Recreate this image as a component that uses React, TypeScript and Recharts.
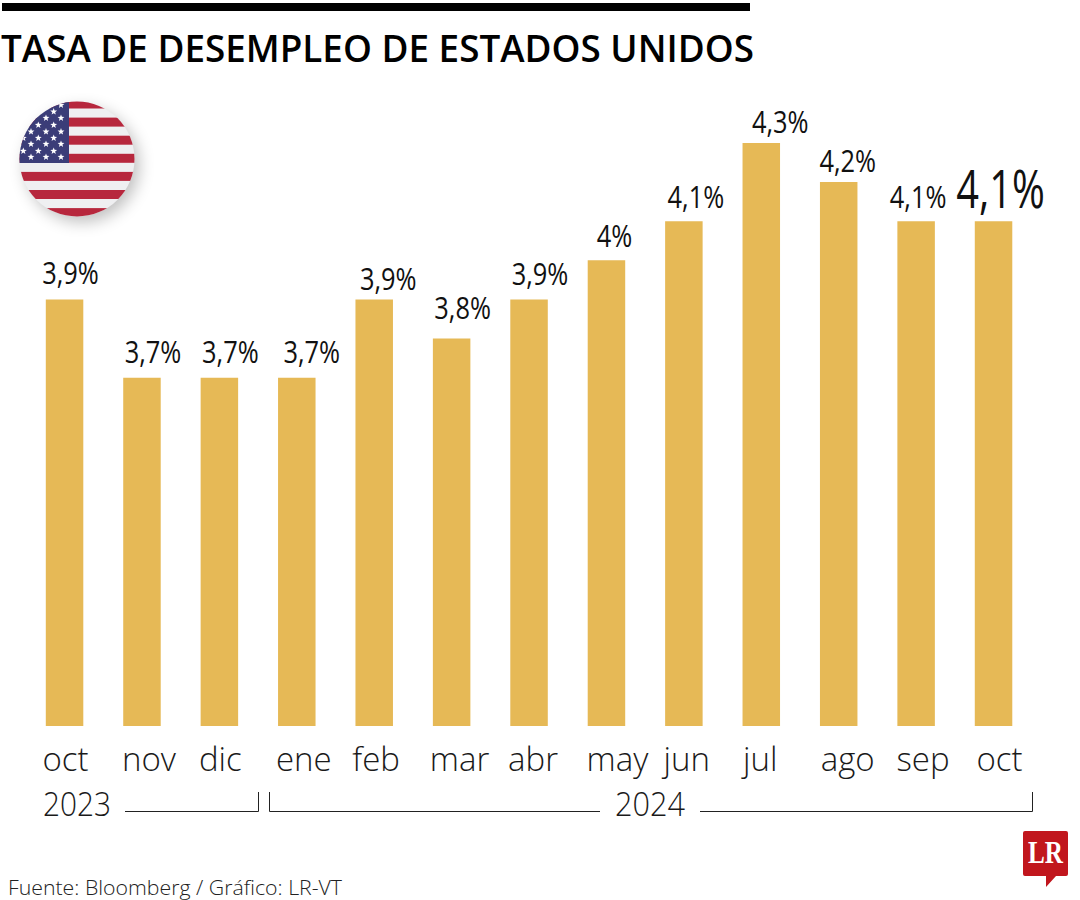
import { BarChart, Bar, XAxis, YAxis, LabelList } from 'recharts'

const months = ['oct', 'nov', 'dic', 'ene', 'feb', 'mar', 'abr', 'may', 'jun', 'jul', 'ago', 'sep', 'oct']
const rates = [3.9, 3.7, 3.7, 3.7, 3.9, 3.8, 3.9, 4, 4.1, 4.3, 4.2, 4.1, 4.1]
const rateLabels = ['3,9%', '3,7%', '3,7%', '3,7%', '3,9%', '3,8%', '3,9%', '4%', '4,1%', '4,3%', '4,2%', '4,1%', '4,1%']

const chartData = months.map((month, i) => ({ month, rate: rates[i], label: rateLabels[i] }))

// hand placed nudges, the labels in the original are not centered on the bars
const tickNudge = [1, 7, 1, 7, 2, 8, 4, 11, 3, -1, 9, 7, 6]
const labelNudgeX = [6, 11, 11, 15, 14, 11, 11, 8, 12, 19, 9, 2, 7]
const labelNudgeY = [0, 0, 0, 0, 6, -5, 1, 2, 2, 5, 5, 2, 2]

const LIGHT = '"Open Sans", sans-serif'
const BAR = '#e6b956'

function MonthTick({ x, y, index, payload }: any) {
  return (
    <text x={x + tickNudge[index]} y={y + 39} textAnchor="middle" fontFamily={LIGHT} fontWeight={300} fontSize={33} fill="#1a1a1a">
      {payload.value}
    </text>
  )
}

function RateLabel({ x, y, width, value, index }: any) {
  const last = index === rates.length - 1
  const cx = x + width / 2 + labelNudgeX[index]
  const by = y - 15 + labelNudgeY[index]
  return (
    <text
      transform={`translate(${cx} ${by}) scale(${last ? 0.75 : 0.82} 1)`}
      textAnchor="middle"
      fontFamily={LIGHT}
      fontSize={last ? 53 : 31}
      fill="#111"
    >
      {value}
    </text>
  )
}

function Flag() {
  const stripes = [0, 1, 2, 3, 4, 5, 6]
  const starRows = [105, 111.7, 118, 125, 131.7, 138, 144, 151, 157]
  const starCols = [61, 53.7, 46, 38.3, 31, 23.3]
  const star = (cx: number, cy: number) => {
    const pts: string[] = []
    for (let k = 0; k < 10; k++) {
      const r = k % 2 ? 1.5 : 3.6
      const a = -Math.PI / 2 + (k * Math.PI) / 5
      pts.push(`${cx + r * Math.cos(a)},${cy + r * Math.sin(a)}`)
    }
    return pts.join(' ')
  }
  return (
    <g>
      <defs>
        <clipPath id="flagClip">
          <circle cx={77} cy={159} r={57.5} />
        </clipPath>
        <filter id="flagShadow" x="-40%" y="-40%" width="180%" height="180%">
          <feGaussianBlur stdDeviation="8" />
        </filter>
      </defs>
      <circle cx={82} cy={165} r={57} fill="#000" opacity={0.25} filter="url(#flagShadow)" />
      <g clipPath="url(#flagClip)">
        <rect x={19} y={101} width={116} height={117} fill="#efeff1" />
        {stripes.map(i => (
          <rect key={i} x={19} y={99.5 + i * 18.1} width={116} height={9} fill="#b7273d" />
        ))}
        <rect x={19} y={101} width={50} height={62} fill="#3b3d78" />
        {starRows.map((cy, r) =>
          starCols.filter((_, c) => c % 2 === (r % 2 === 0 ? 0 : 1)).map(cx => (
            <polygon key={`${cx}-${cy}`} points={star(cx, cy)} fill="#fff" />
          ))
        )}
      </g>
    </g>
  )
}

function Overlay() {
  return (
    <svg width={1080} height={900} style={{ position: 'absolute', left: 0, top: 0, pointerEvents: 'none' }}>
      <rect x={2} y={3} width={748} height={8} fill="#000" />
      <text x={1} y={62} fontFamily={LIGHT} fontWeight={600} fontSize={38} textLength={753} lengthAdjust="spacingAndGlyphs" fill="#000">
        TASA DE DESEMPLEO DE ESTADOS UNIDOS
      </text>
      <Flag />

      <text x={43} y={816} fontFamily={LIGHT} fontWeight={300} fontSize={33} textLength={68} lengthAdjust="spacingAndGlyphs" fill="#1a1a1a">2023</text>
      <text x={615} y={816} fontFamily={LIGHT} fontWeight={300} fontSize={33} textLength={70} lengthAdjust="spacingAndGlyphs" fill="#1a1a1a">2024</text>
      <path d="M125 811.5H258.5V792" fill="none" stroke="#222" strokeWidth={1} />
      <path d="M269.5 792V811.5H600" fill="none" stroke="#222" strokeWidth={1} />
      <path d="M700 811.5H1032.5V792" fill="none" stroke="#222" strokeWidth={1} />

      <text x={8} y={895} fontFamily={LIGHT} fontWeight={300} fontSize={21} textLength={334} lengthAdjust="spacingAndGlyphs" fill="#222">
        Fuente: Bloomberg / Gráfico: LR-VT
      </text>

      <path d="M1025 831H1066Q1068 831 1068 833V874Q1068 876 1066 876H1056L1046 887V876H1025Q1023 876 1023 874V833Q1023 831 1025 831Z" fill="#c1161d" />
      <text x={1028} y={863} fontFamily='"Liberation Serif", serif' fontWeight={700} fontSize={32} textLength={35} lengthAdjust="spacingAndGlyphs" fill="#fff">LR</text>
    </svg>
  )
}

export default function App() {
  return (
    <div style={{ position: 'absolute', left: 0, top: 0, width: 1080, height: 900, background: '#fff', overflow: 'hidden' }}>
      <BarChart
        width={1080}
        height={900}
        data={chartData}
        margin={{ top: 64.7, right: 47.8, bottom: 114, left: 25.8 }}
      >
        <XAxis dataKey="month" height={60} interval={0} axisLine={false} tickLine={false} tick={MonthTick} tickMargin={0} />
        <YAxis hide domain={[2.81, 4.5]} allowDataOverflow />
        <Bar dataKey="rate" fill={BAR} barSize={37.5} isAnimationActive={false}>
          <LabelList dataKey="label" content={RateLabel} />
        </Bar>
      </BarChart>
      <Overlay />
    </div>
  )
}
